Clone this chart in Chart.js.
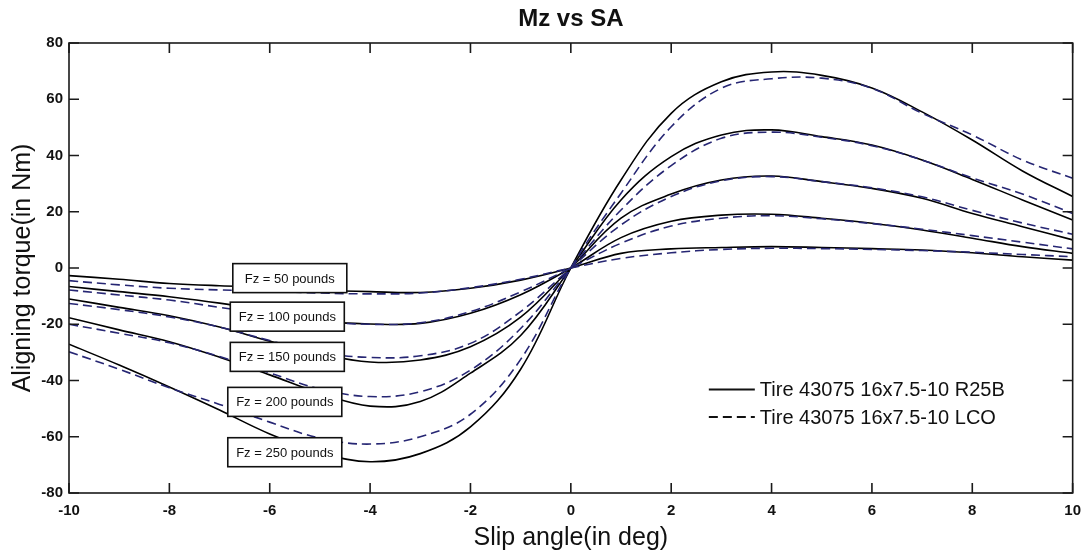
<!DOCTYPE html>
<html>
<head>
<meta charset="utf-8">
<title>Mz vs SA</title>
<script src="https://cdn.jsdelivr.net/npm/chart.js@4.4.1/dist/chart.umd.min.js"></script>
<style>
  html, body { margin: 0; padding: 0; background: #fff; }
  #wrap { width: 1090px; height: 554px; }
</style>
</head>
<body>
<div id="wrap"><canvas id="chart" width="1090" height="554"></canvas></div>
<script>
// slip angle (deg)
const slipAngles = [-10, -9, -8, -7, -6, -5, -4, -3, -2, -1, 0, 1, 2, 3, 4, 5, 6, 7, 8, 9, 10];

// aligning torque (Nm), tire R25B (solid)
const r25b50  = [-2.7, -4.0, -5.5, -6.3, -6.8, -7.8, -8.4, -8.7, -7.2, -4.3, 0, 5.2, 6.8, 7.3, 7.6, 7.3, 6.9, 6.4, 5.4, 4.0, 2.8];
const r25b100 = [-6.6, -8.4, -10.2, -12.5, -15.5, -18.8, -19.9, -19.7, -16.1, -9.5, 0, 10.8, 16.6, 18.8, 19.1, 17.7, 15.9, 13.5, 10.6, 7.6, 5.2];
const r25b150 = [-11.0, -14.0, -17.0, -21.0, -26.0, -30.5, -33.4, -32.7, -28.0, -17.5, 0, 17.7, 26.3, 31.3, 32.7, 30.7, 28.3, 24.8, 19.4, 14.7, 10.0];
const r25b200 = [-17.7, -22.0, -26.2, -31.7, -38.0, -44.5, -49.1, -47.5, -37.4, -24.0, 0, 24.2, 39.6, 47.3, 49.1, 46.7, 43.7, 38.4, 31.5, 24.2, 17.1];
const r25b250 = [-27.1, -34.5, -42.3, -50.5, -59.0, -65.5, -68.9, -66.0, -56.5, -36.0, 0, 31.3, 55.0, 66.2, 69.7, 68.5, 64.0, 55.5, 45.5, 34.5, 25.4];

// aligning torque (Nm), tire LCO (dashed)
const lco50  = [-4.5, -6.0, -7.2, -7.8, -8.3, -8.9, -9.2, -8.9, -7.0, -4.0, 0, 3.4, 5.4, 6.6, 7.0, 6.9, 6.6, 6.2, 5.6, 4.8, 4.0];
const lco100 = [-7.8, -9.6, -11.4, -14.0, -16.5, -19.0, -20.0, -19.5, -15.5, -8.5, 0, 8.8, 14.9, 17.7, 18.6, 17.5, 15.8, 13.8, 11.5, 9.2, 6.8];
const lco150 = [-12.6, -14.8, -17.4, -21.0, -25.8, -30.0, -31.8, -31.2, -26.8, -15.5, 0, 15.3, 25.4, 31.0, 32.5, 30.7, 28.5, 25.3, 20.5, 16.0, 12.0];
const lco200 = [-20.0, -23.2, -26.6, -31.5, -37.3, -43.0, -45.7, -44.0, -36.3, -21.5, 0, 20.6, 36.4, 46.1, 48.3, 46.5, 43.5, 38.4, 32.0, 26.3, 19.4];
const lco250 = [-29.8, -36.0, -42.6, -48.5, -54.8, -60.5, -62.6, -60.0, -52.0, -32.5, 0, 26.6, 50.2, 63.9, 67.3, 67.5, 63.9, 55.0, 47.3, 38.4, 31.9];

const seriesNames = ["Tire 43075 16x7.5-10 R25B", "Tire 43075 16x7.5-10 LCO"];
const chartTitle = "Mz vs SA";

// load labels and where they sit (data units)
const fzLabels = ["Fz = 50 pounds", "Fz = 100 pounds", "Fz = 150 pounds", "Fz = 200 pounds", "Fz = 250 pounds"];
const fzLabelX = [-5.6, -5.65, -5.65, -5.7, -5.7];
const fzLabelY = [-3.6, -17.3, -31.6, -47.6, -65.5];

const FONT = "'Liberation Sans', Arial, Helvetica, sans-serif";
const SOLID = "#000000";
const DASHED = "#262673";

const toPoints = (ys) => ys.map((v, i) => ({ x: slipAngles[i], y: v }));

const solidSets = [r25b50, r25b100, r25b150, r25b200, r25b250].map((d) => ({
  label: seriesNames[0],
  data: toPoints(d),
  borderColor: SOLID,
  borderWidth: 1.6,
}));
const dashedSets = [lco50, lco100, lco150, lco200, lco250].map((d) => ({
  label: seriesNames[1],
  data: toPoints(d),
  borderColor: DASHED,
  borderWidth: 1.6,
  borderDash: [9, 5],
}));

// title centred over the plot box
const plotTitle = {
  id: "plotTitle",
  afterDraw(chart) {
    const { ctx, chartArea: a } = chart;
    ctx.save();
    ctx.font = "bold 24px " + FONT;
    ctx.fillStyle = "#111";
    ctx.textAlign = "center";
    ctx.textBaseline = "middle";
    ctx.fillText(chartTitle, (a.left + a.right) / 2, 19);
    ctx.restore();
  }
};

// box, inward ticks on all four sides
const frameTicks = {
  id: "frameTicks",
  afterDraw(chart) {
    const { ctx, chartArea: a, scales: { x, y } } = chart;
    const len = 10;
    ctx.save();
    ctx.strokeStyle = "#1a1a1a";
    ctx.lineWidth = 1.6;
    ctx.strokeRect(a.left, a.top, a.right - a.left, a.bottom - a.top);
    ctx.beginPath();
    x.ticks.forEach((t) => {
      const px = x.getPixelForValue(t.value);
      ctx.moveTo(px, a.bottom); ctx.lineTo(px, a.bottom - len);
      ctx.moveTo(px, a.top); ctx.lineTo(px, a.top + len);
    });
    y.ticks.forEach((t) => {
      const py = y.getPixelForValue(t.value);
      ctx.moveTo(a.left, py); ctx.lineTo(a.left + len, py);
      ctx.moveTo(a.right, py); ctx.lineTo(a.right - len, py);
    });
    ctx.stroke();
    ctx.restore();
  }
};

// Fz label boxes drawn over the curves
const fzBoxes = {
  id: "fzBoxes",
  afterDatasetsDraw(chart) {
    const { ctx, scales: { x, y } } = chart;
    const w = 114, h = 29;
    ctx.save();
    ctx.font = "13px " + FONT;
    ctx.textAlign = "center";
    ctx.textBaseline = "middle";
    fzLabels.forEach((txt, i) => {
      const cx = x.getPixelForValue(fzLabelX[i]);
      const cy = y.getPixelForValue(fzLabelY[i]);
      ctx.fillStyle = "#fff";
      ctx.fillRect(cx - w / 2, cy - h / 2, w, h);
      ctx.strokeStyle = "#111";
      ctx.lineWidth = 1.6;
      ctx.strokeRect(cx - w / 2, cy - h / 2, w, h);
      ctx.fillStyle = "#111";
      ctx.fillText(txt, cx, cy + 1);
    });
    ctx.restore();
  }
};

// legend inside the plot, no frame
const innerLegend = {
  id: "innerLegend",
  afterDraw(chart) {
    const { ctx, scales: { x, y } } = chart;
    const x0 = x.getPixelForValue(2.75);
    const y0 = y.getPixelForValue(-43.2);
    const rowGap = 27.5;
    ctx.save();
    ctx.font = "20px " + FONT;
    ctx.textBaseline = "middle";
    ctx.textAlign = "left";
    [solidSets[0], dashedSets[0]].forEach((ds, i) => {
      const ly = y0 + i * rowGap;
      ctx.beginPath();
      ctx.setLineDash(ds.borderDash || []);
      ctx.strokeStyle = "#111";
      ctx.lineWidth = 1.8;
      ctx.moveTo(x0, ly);
      ctx.lineTo(x0 + 46, ly);
      ctx.stroke();
      ctx.setLineDash([]);
      ctx.fillStyle = "#111";
      ctx.fillText(ds.label, x0 + 51, ly + 1);
    });
    ctx.restore();
  }
};

new Chart(document.getElementById("chart"), {
  type: "line",
  data: { datasets: [...dashedSets, ...solidSets] },
  options: {
    responsive: false,
    animation: false,
    layout: { padding: { left: 0, right: 13, top: 43, bottom: 0 } },
    elements: {
      point: { radius: 0, hoverRadius: 0 },
      line: { tension: 0.38, fill: false },
    },
    plugins: {
      legend: { display: false },
      tooltip: { enabled: false },
      title: { display: false },
    },
    scales: {
      x: {
        type: "linear",
        min: -10,
        max: 10,
        grid: { display: false, drawTicks: false },
        border: { display: false },
        ticks: {
          stepSize: 2,
          padding: 9,
          maxRotation: 0,
          autoSkip: false,
          color: "#111",
          font: { family: FONT, size: 15, weight: "bold" },
        },
        title: {
          display: true,
          text: "Slip angle(in deg)",
          color: "#111",
          font: { family: FONT, size: 25 },
          padding: 1,
        },
        afterFit(scale) { scale.height = 61; },
      },
      y: {
        type: "linear",
        min: -80,
        max: 80,
        grid: { display: false, drawTicks: false },
        border: { display: false },
        ticks: {
          stepSize: 20,
          padding: 6,
          color: "#111",
          font: { family: FONT, size: 15, weight: "bold" },
        },
        title: {
          display: true,
          text: "Aligning torque(in Nm)",
          color: "#111",
          font: { family: FONT, size: 25 },
          padding: { top: 8, bottom: 0 },
        },
        afterFit(scale) { scale.width = 69; },
      },
    },
  },
  plugins: [fzBoxes, frameTicks, innerLegend, plotTitle],
});
</script>
</body>
</html>
